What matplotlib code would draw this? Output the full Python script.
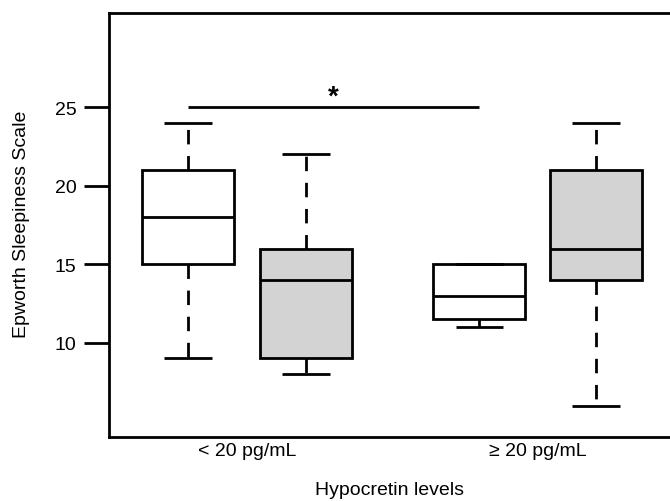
import matplotlib
matplotlib.use("Agg")
import matplotlib.pyplot as plt

plt.rcParams['font.family'] = ['Liberation Sans', 'DejaVu Sans']

# Data
group_labels = ["< 20 pg/mL", "\u2265 20 pg/mL"]
whislo = [9, 8, 11, 6]
q1 = [15, 9, 11.5, 14]
med = [18, 14, 13, 16]
q3 = [21, 16, 15, 21]
whishi = [24, 22, 15, 24]
fills = ["white", "#d3d3d3", "white", "#d3d3d3"]
y_ticks = [10, 15, 20, 25]
sig_y = 25

positions = [1, 2, 3.47, 4.46]
tick_pos = [1.5, 3.965]

fig = plt.figure(figsize=(6.7, 5.02), dpi=100)
ax = fig.add_axes([109 / 670, 1 - 438 / 502, 561 / 670, 424 / 502])

stats = []
for i in range(len(med)):
    stats.append(dict(whislo=whislo[i], q1=q1[i], med=med[i], q3=q3[i],
                      whishi=whishi[i], fliers=[]))

lw = 2.0
bp = ax.bxp(stats, positions=positions, widths=0.78, capwidths=0.4,
            patch_artist=True, showfliers=False,
            boxprops=dict(linewidth=lw, edgecolor='black'),
            medianprops=dict(color='black', linewidth=lw, solid_capstyle='butt'),
            whiskerprops=dict(color='black', linewidth=lw,
                              linestyle=(0, (5.2, 4.2)), dash_capstyle='butt'),
            capprops=dict(color='black', linewidth=lw, solid_capstyle='butt'))
for patch, c in zip(bp['boxes'], fills):
    patch.set_facecolor(c)

# significance bar
ax.plot([positions[0], positions[2]], [sig_y, sig_y], color='black', lw=lw,
        solid_capstyle='butt')
ax.text((positions[0] + positions[2]) / 2, sig_y - 0.15, "*", ha='center',
        va='bottom', fontsize=20, fontweight='bold')

ax.set_xlim(0.33, 5.087)
ax.set_ylim(4, 31)
ax.set_yticks(y_ticks)
ax.set_yticklabels([str(t) for t in y_ticks])
ax.set_xticks(tick_pos)
ax.set_xticklabels(group_labels)

ax.tick_params(axis='y', length=18, width=lw, pad=5.5, labelsize=14)
ax.tick_params(axis='x', length=0, pad=3.5, labelsize=14)

for s in ['left', 'top', 'bottom']:
    ax.spines[s].set_linewidth(lw)
ax.spines['right'].set_visible(False)

ax.set_ylabel("Epworth Sleepiness Scale", fontsize=14)
ax.yaxis.set_label_coords(-0.141, 0.505)
ax.set_xlabel("Hypocretin levels", fontsize=14)
ax.xaxis.set_label_coords(0.5, -0.104)

fig.savefig("out.png", dpi=100)
